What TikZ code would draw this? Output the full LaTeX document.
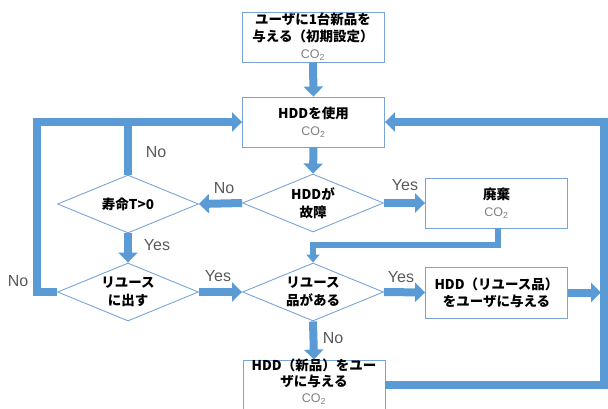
\documentclass[tikz,border=0pt]{standalone}
\usepackage{fontspec}
\usetikzlibrary{arrows.meta,shapes.geometric}
\newfontfamily\jpf{Noto Sans CJK JP}
\newfontfamily\lsans{Liberation Sans}
\definecolor{boxblue}{HTML}{7BA4D6}
\definecolor{arrblue}{HTML}{5B9BD5}
\definecolor{labgray}{HTML}{595959}
\definecolor{cogray}{HTML}{808080}
\newcommand{\cotext}{{\lsans\mdseries\fontsize{12.5}{17}\selectfont\color{cogray}CO\textsubscript{2}}}
\begin{document}
\begin{tikzpicture}[x=1pt,y=-1pt,
  box/.style={draw=boxblue,line width=0.9pt,rectangle,minimum width=142pt,minimum height=50pt,inner sep=0pt,align=center,font=\jpf\bfseries\fontsize{13.5}{17}\selectfont},
  boxtext/.style={inner sep=0pt,align=center,font=\jpf\bfseries\fontsize{13.5}{16}\selectfont},
  dia/.style={draw=boxblue,line width=0.9pt,diamond,aspect=2.4,minimum width=141pt,minimum height=58pt,inner sep=0pt,align=center,font=\jpf\bfseries\fontsize{13.5}{18}\selectfont},
  flow/.style={draw=arrblue,line width=8pt,-{Triangle[width=19pt,length=10pt]}},
  thinflow/.style={draw=arrblue,line width=5.5pt,-{Triangle[width=13pt,length=8pt]}},
  loopline/.style={draw=arrblue,line width=8pt},
  lab/.style={text=labgray,font=\lsans\fontsize{16}{16}\selectfont,inner sep=0pt}
]
\useasboundingbox (0,0) rectangle (608,408);

% boxes
\node[box] (init) at (313,37) {ユーザに1台新品を\\与える（初期設定）\\\cotext};
\node[box] (use) at (313.5,122) {HDDを使用\\\cotext};
\node[box] (waste) at (496.5,203) {廃棄\\\cotext};
\node[box,minimum height=51pt] (rbox) at (496.5,292.5) {HDD（リユース品）\\をユーザに与える};
\node[box,minimum height=54pt] (newbox) at (314,387) {};
\node[boxtext] (newtext) at (314,382) {HDD（新品）をユー\\ザに与える\\{\lsans\mdseries\fontsize{12.5}{16}\selectfont\color{cogray}CO\textsubscript{2}}};

% diamonds
\node[dia] (fail) at (313,203) {HDDが\\故障};
\node[dia] (life) at (128,204) {寿命T>0};
\node[dia] (reuseout) at (128,292) {リユース\\に出す};
\node[dia] (avail) at (313,292) {リユース\\品がある};

% helper coordinates
\coordinate (c1) at (313,245);
\coordinate (L2) at (37,122);
\coordinate (L3) at (128,122);
\coordinate (Rtop) at (604,122);
\coordinate (Rin) at (601,0);
\coordinate (Bot) at (0,385);

% connectors
\draw[flow] (init.south) -- (use.north);
\draw[flow] (use.south) -- (fail.north);
\draw[flow] (fail.east) -- (waste.west);
\draw[flow] (fail.west) -- (life.east);
\draw[flow] (life.south) -- (reuseout.north);
\draw[flow] (reuseout.east) -- (avail.west);
\draw[flow] (avail.east) -- (rbox.west);
\draw[flow] (avail.south) -- (newbox.north);
\draw[thinflow] ([xshift=1.5pt]waste.south) |- (c1) -- (avail.north);
\draw[loopline] (life.north) -- (L3);
\draw[flow] (reuseout.west) -| (L2) -- (use.west);
\draw[flow] (rbox.east) -- (rbox.east -| Rin);
\draw[flow] (newbox.east |- Bot) -| (Rtop) -- (use.east);

% labels
\node[lab] (n1) at (156,152) {No};
\node[lab] (n2) at (224,188) {No};
\node[lab] (y1) at (157,245) {Yes};
\node[lab] (n3) at (18,281) {No};
\node[lab] (y2) at (218,276) {Yes};
\node[lab] (y3) at (405,185) {Yes};
\node[lab] (y4) at (401,277) {Yes};
\node[lab] (n4) at (333,338) {No};
\end{tikzpicture}
\end{document}
